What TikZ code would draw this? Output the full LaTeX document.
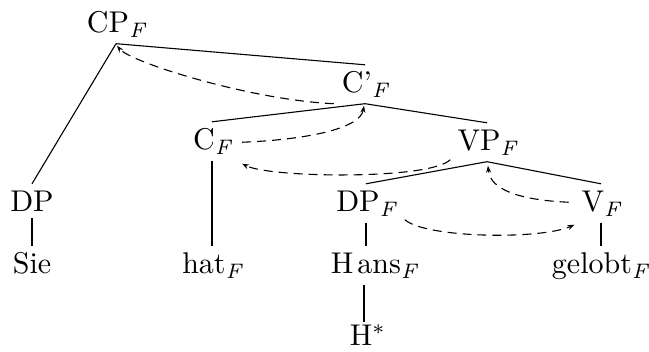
\documentclass[tikz,border=0pt]{standalone}
\usetikzlibrary{arrows.meta}
\font\lmbig="[lmroman10-regular]:mapping=tex-text" at 30pt
\font\lmsubit="[lmroman7-italic]" at 21pt
\font\lmsubrm="[lmroman7-regular]" at 21pt
\newcommand\fsub{\raisebox{-4.5pt}{\lmsubit F}}
\newcommand\starsup{\raisebox{5pt}{\lmsubrm *}}
\begin{document}
\begin{tikzpicture}[x=1pt,y=-1pt,
  lab/.style={anchor=base, inner xsep=1pt, inner ysep=6pt, text height=22pt, font=\lmbig},
  branch/.style={line width=1.1pt},
  mov/.style={line width=1.1pt, dash pattern=on 9pt off 6pt, -{Stealth[length=7pt,width=5pt]}}]
\useasboundingbox (0,0) rectangle (649,352);
% nodes
\node[lab] (cp) at (116,33) {CP\fsub};
\node[lab] (cbar) at (365,93) {C’\fsub};
\node[lab] (c) at (212,150) {C\fsub};
\node[lab] (vp) at (487,151) {VP\fsub};
\node[lab] (dp) at (32,212) {DP};
\node[lab] (dpf) at (366,212) {DP\fsub};
\node[lab] (vf) at (601,212) {V\fsub};
\node[lab] (sie) at (32,274) {Sie};
\node[lab] (hat) at (212,274) {hat\fsub};
\node[lab] (hans) at (374,274) {H\kern4pt ans\fsub};
\node[lab] (gel) at (600,274) {gelobt\fsub};
\node[lab, text height=20pt, inner ysep=4pt] (hstar) at (367,346) {H\starsup};
% branches
\draw[branch] (cp.south) -- (cbar.north);
\draw[branch] (cp.south) -- (dp.north);
\draw[branch] (cbar.south) -- (c.north);
\draw[branch] (cbar.south) -- (vp.north);
\draw[branch] (vp.south) -- (dpf.north);
\draw[branch] (vp.south) -- (vf.north);
\draw[branch] (dp.south) -- (sie.north);
\draw[branch] (c.south) -- (hat.north);
\draw[branch] (dpf.south) -- (dpf.south |- hans.north);
\draw[branch] ([xshift=-3pt]hstar.north |- hans.south) -- ([xshift=-3pt]hstar.north);
\draw[branch] (vf.south) -- (vf.south |- gel.north);
% movement arrows
\draw[mov] ([shift={(-7,0)}]cbar.south west) .. controls (250,100) and (130,62) .. ([shift={(1,2)}]cp.south);
\draw[mov] ([shift={(10,1)}]c.east) .. controls (300,140) and (360,130) .. ([shift={(-1,2)}]cbar.south);
\draw[mov] ([shift={(-6,-2)}]vp.south west) .. controls (430,180) and (270,178) .. ([shift={(10,3)}]c.south east);
\draw[mov] ([shift={(-12,-1)}]vf.west) .. controls (520,200) and (490,190) .. ([shift={(1,4)}]vp.south);
\draw[mov] ([shift={(8,-3)}]dpf.south east) .. controls (425,238) and (540,240) .. ([shift={(-6,2)}]vf.south west);
\end{tikzpicture}
\end{document}
